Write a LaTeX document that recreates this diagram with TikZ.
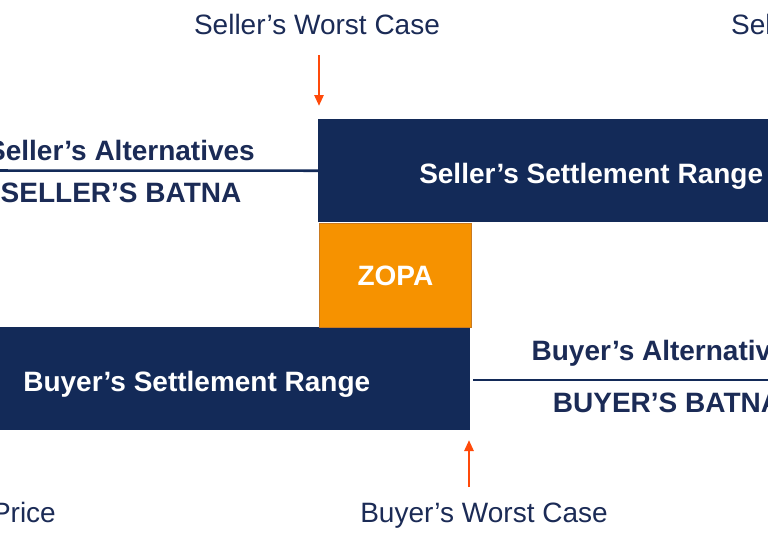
\documentclass[tikz,border=0pt]{standalone}
\usepackage{fontspec}
\setmainfont{Liberation Sans}
\usetikzlibrary{arrows.meta}
\definecolor{navy}{HTML}{132A58}
\definecolor{txtnavy}{HTML}{1B2B56}
\definecolor{zopa}{HTML}{F69200}
\definecolor{zopaedge}{HTML}{C97A20}
\definecolor{arrowred}{HTML}{FF4A0A}
\tikzset{
  rangebox/.style={rectangle, fill=navy, draw=none, inner sep=0pt,
    minimum width=546pt, minimum height=103pt, text=white,
    text height=25pt, text depth=0pt,
    font=\fontsize{28}{32}\selectfont\bfseries},
  zopabox/.style={rectangle, fill=zopa, draw=zopaedge, line width=0.8pt, inner sep=0pt,
    minimum width=152pt, minimum height=104pt, text=white,
    font=\fontsize{28}{32}\selectfont\bfseries},
  caselabel/.style={text=txtnavy, inner sep=0pt, font=\fontsize{28}{32}\selectfont},
  altlabel/.style={text=txtnavy, inner sep=0pt, font=\fontsize{28}{32}\selectfont\bfseries},
  batnaline/.style={draw=navy, line width=2.6pt},
  arr/.style={draw=arrowred, line width=2.6pt, -{Triangle[length=11pt,width=9pt]}},
}
\begin{document}
\begin{tikzpicture}[x=1pt,y=-1pt]
\fill[white] (0,0) rectangle (768,542);
\clip (0,0) rectangle (768,542);
% boxes
\node[rangebox, anchor=north west] (sellerbox) at (318,119) {Seller’s Settlement Range};
\node[rangebox, anchor=north east] (buyerbox) at (470,327) {Buyer’s Settlement Range};
\node[zopabox, anchor=north west] (zopa) at (319,223) {ZOPA};
% seller alternatives
\coordinate (sellerlineend) at (-76,170.5);
\draw[batnaline] (sellerlineend) -- (sellerbox.west);
\node[altlabel, anchor=base] (selleralt) at (121,160) {Seller’s Alternatives};
\node[altlabel, anchor=base] (sellerbatna) at (121,202) {SELLER’S BATNA};
% buyer alternatives
\coordinate (buyerlinestart) at (473,380);
\coordinate (buyerlineend) at (864,380);
\draw[batnaline] (buyerlinestart) -- (buyerlineend);
\node[altlabel, anchor=base] (buyeralt) at (667,360) {Buyer’s Alternatives};
\node[altlabel, anchor=base] (buyerbatna) at (667,412) {BUYER’S BATNA};
% worst cases
\node[caselabel, anchor=base] (sellerworst) at (317,34) {Seller’s Worst Case};
\node[caselabel, anchor=base] (buyerworst) at (484,522) {Buyer’s Worst Case};
\node[caselabel, anchor=base west] (sellertarget) at (731,34) {Sel};
\node[caselabel, anchor=base east] (buyertarget) at (56,522) {Price};
\coordinate (sa1) at (319,55);
\coordinate (sa2) at (319,106);
\draw[arr] (sa1) -- (sa2);
\coordinate (ba1) at (469,487);
\coordinate (ba2) at (469,440);
\draw[arr] (ba1) -- (ba2);
\end{tikzpicture}
\end{document}
